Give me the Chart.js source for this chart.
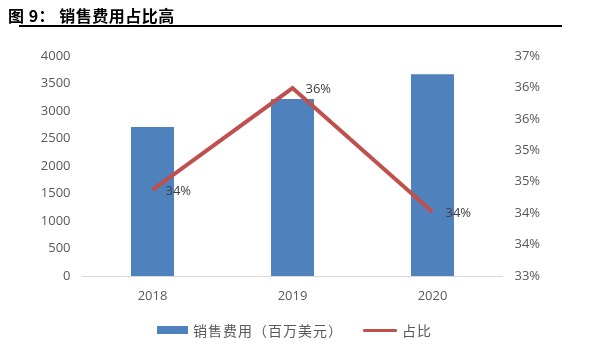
<!DOCTYPE html>
<html>
<head>
<meta charset="utf-8">
<script src="https://cdn.jsdelivr.net/npm/chart.js@4/dist/chart.umd.min.js"></script>
<style>
  html, body { margin: 0; padding: 0; background: #fff; }
  #wrap { position: relative; width: 602px; height: 358px; overflow: hidden; font-family: "Noto Sans CJK SC", "Noto Sans", sans-serif; }
  #title { position: absolute; left: 8px; top: 3px; font-size: 16px; font-weight: bold; color: #000; white-space: nowrap; letter-spacing: 0.5px; }
  #rule { position: absolute; left: 19px; top: 25px; width: 543px; height: 2px; background: #000; }
  #chart { position: absolute; left: 0; top: 0; }
  #legend { position: absolute; top: 320px; left: 157px; height: 20px; display: flex; align-items: center; font-size: 14px; color: #595959; white-space: nowrap; letter-spacing: 1px; }
  #legend .item { display: flex; align-items: center; }
  #legend .sw { display: inline-block; margin-right: 5px; }
</style>
</head>
<body>
<div id="wrap">
  <canvas id="chart" width="602" height="358"></canvas>
  <div id="title">图 9： 销售费用占比高</div>
  <div id="rule"></div>
  <div id="legend"></div>
</div>
<script>
const years = ["2018", "2019", "2020"];
const salesCost = [2710, 3220, 3670];      // 百万美元
const costShare = [34.37, 35.99, 34.02];   // %
const shareTicks = { min: 33, max: 36.5, step: 0.5 };
const costTicks = { min: 0, max: 4000, step: 500 };

const BLUE = "#4F81BD";
const RED = "#C0504D";
const TICK = "#595959";
const FONT = "'Open Sans', 'Noto Sans', sans-serif";

const pointLabels = {
  id: "pointLabels",
  afterDatasetsDraw(chart) {
    const meta = chart.getDatasetMeta(1);
    const ctx = chart.ctx;
    ctx.save();
    ctx.font = "13px " + FONT;
    ctx.fillStyle = "#404040";
    ctx.textAlign = "left";
    ctx.textBaseline = "middle";
    meta.data.forEach((pt, i) => {
      ctx.fillText(Math.round(costShare[i]) + "%", pt.x + 13, pt.y + 1);
    });
    ctx.restore();
  }
};

const chart = new Chart(document.getElementById("chart"), {
  type: "bar",
  data: {
    labels: years,
    datasets: [
      {
        type: "bar",
        label: "销售费用（百万美元）",
        data: salesCost,
        backgroundColor: BLUE,
        yAxisID: "y",
        categoryPercentage: 1,
        barPercentage: 0.307,
        order: 2
      },
      {
        type: "line",
        label: "占比",
        data: costShare,
        borderColor: RED,
        backgroundColor: RED,
        borderWidth: 4,
        pointRadius: 0,
        tension: 0,
        yAxisID: "y1",
        order: 1
      }
    ]
  },
  options: {
    responsive: false,
    animation: false,
    devicePixelRatio: 1,
    layout: { padding: { top: 56, bottom: 0, left: 0, right: 0 } },
    plugins: { legend: { display: false }, tooltip: { enabled: false } },
    scales: {
      x: {
        grid: { display: false, drawTicks: false },
        border: { display: true, color: "#D9D9D9", width: 1 },
        ticks: { color: TICK, font: { size: 13, family: FONT }, padding: 12, maxRotation: 0 },
        afterFit(s) { s.height = 82; }
      },
      y: {
        position: "left",
        min: costTicks.min, max: costTicks.max,
        grid: { display: false, drawTicks: false },
        border: { display: false },
        ticks: { stepSize: costTicks.step, color: TICK, font: { size: 13, family: FONT }, padding: 12,
          callback: (v) => String(v) },
        afterFit(s) { s.width = 82.5; }
      },
      y1: {
        position: "right",
        min: shareTicks.min, max: shareTicks.max,
        grid: { display: false, drawTicks: false },
        border: { display: false },
        ticks: {
          stepSize: shareTicks.step, color: TICK, font: { size: 13, family: FONT }, padding: 12,
          callback: (v) => Math.round(v) + "%"
        },
        afterFit(s) { s.width = 99.5; }
      }
    }
  },
  plugins: [pointLabels]
});

// legend from the datasets
const legend = document.getElementById("legend");
chart.data.datasets.forEach((ds, i) => {
  const item = document.createElement("span");
  item.className = "item";
  if (i > 0) item.style.marginLeft = "20px";
  const sw = document.createElement("span");
  sw.className = "sw";
  if (ds.type === "line") {
    Object.assign(sw.style, { width: "34px", height: "3px", background: ds.borderColor, borderRadius: "1px" });
  } else {
    Object.assign(sw.style, { width: "31px", height: "8px", background: ds.backgroundColor });
  }
  item.appendChild(sw);
  item.appendChild(document.createTextNode(ds.label));
  legend.appendChild(item);
});
</script>
</body>
</html>
